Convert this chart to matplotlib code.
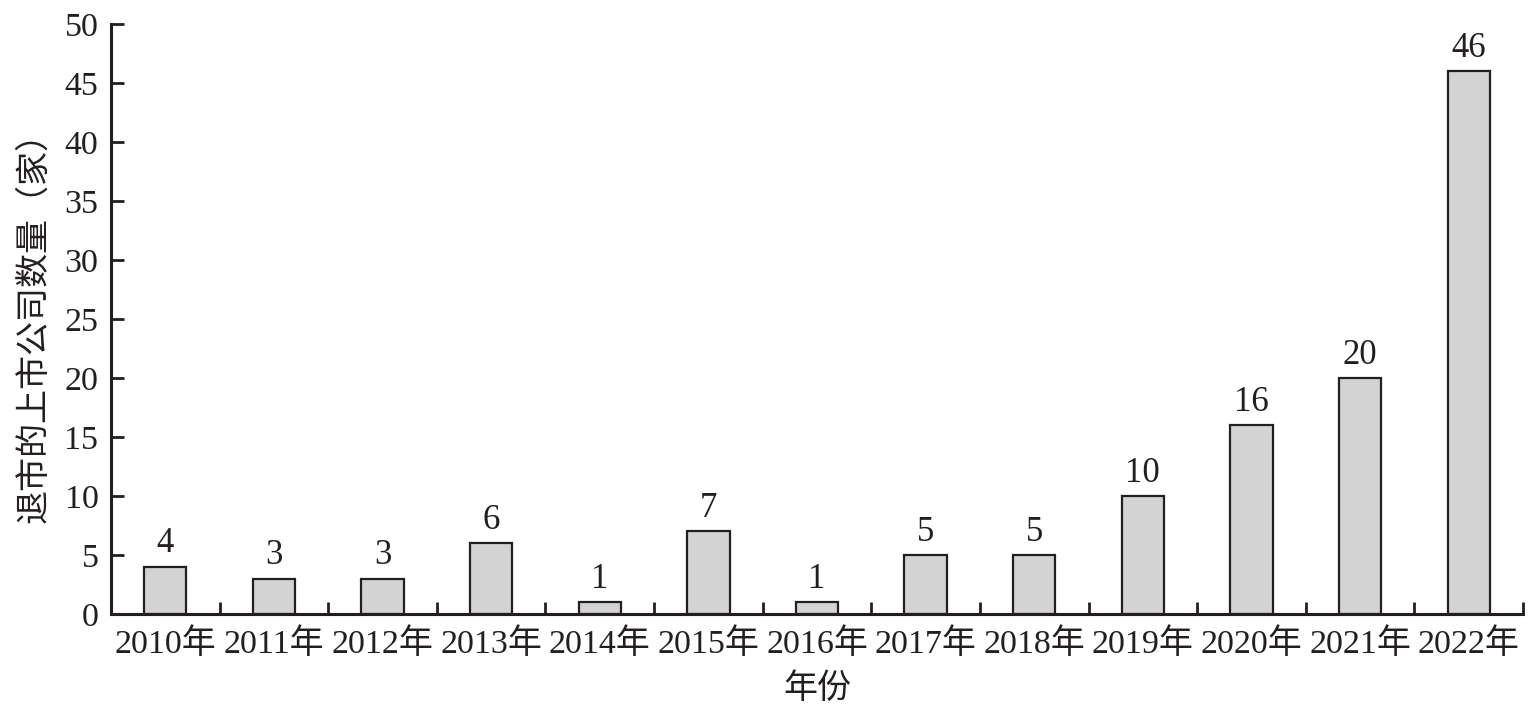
import matplotlib
matplotlib.use("Agg")
import matplotlib.pyplot as plt
import numpy as np

years = ["2010年", "2011年", "2012年", "2013年", "2014年", "2015年", "2016年",
         "2017年", "2018年", "2019年", "2020年", "2021年", "2022年"]
counts = [4, 3, 3, 6, 1, 7, 1, 5, 5, 10, 16, 20, 46]
yticks = [0, 5, 10, 15, 20, 25, 30, 35, 40, 45, 50]

plt.rcParams['font.family'] = ['Liberation Serif', 'Noto Sans CJK SC']

fig = plt.figure(figsize=(15.39, 7.09), dpi=100)
ax = fig.add_axes([0.0721, 0.134, 0.9175, 0.832])

x = np.arange(len(years))
ax.bar(x, counts, width=0.39, color='#d3d3d3', edgecolor='#231f20', linewidth=1.6, zorder=2)
for xi, v in zip(x, counts):
    ax.text(xi, v + 0.55, str(v), ha='center', va='bottom', fontsize=25, color='#231f20')

ax.set_xlim(-0.5, len(years) - 0.5)
ax.set_ylim(0, 50)
ax.set_yticks(yticks)
ax.set_yticklabels([str(t) for t in yticks], fontsize=24.5, color='#231f20')
ax.set_xticks(x)
ax.set_xticklabels(years, fontsize=24.5, color='#231f20')
ax.tick_params(axis='x', length=0, pad=10)
ax.tick_params(axis='y', direction='in', length=9, width=2, color='#231f20', pad=9)
ax.set_xticks(np.arange(0.5, len(years), 1.0), minor=True)
ax.tick_params(axis='x', which='minor', direction='in', length=9, width=2, color='#231f20')

for s in ['top', 'right']:
    ax.spines[s].set_visible(False)
for s in ['left', 'bottom']:
    ax.spines[s].set_linewidth(2.2)
    ax.spines[s].set_color('#231f20')

ax.set_xlabel("年份", fontsize=24.5, color='#231f20', labelpad=10)
ax.set_ylabel("退市的上市公司数量（家）", fontsize=24.5, color='#231f20', labelpad=10)

fig.savefig("out.png", dpi=100)
